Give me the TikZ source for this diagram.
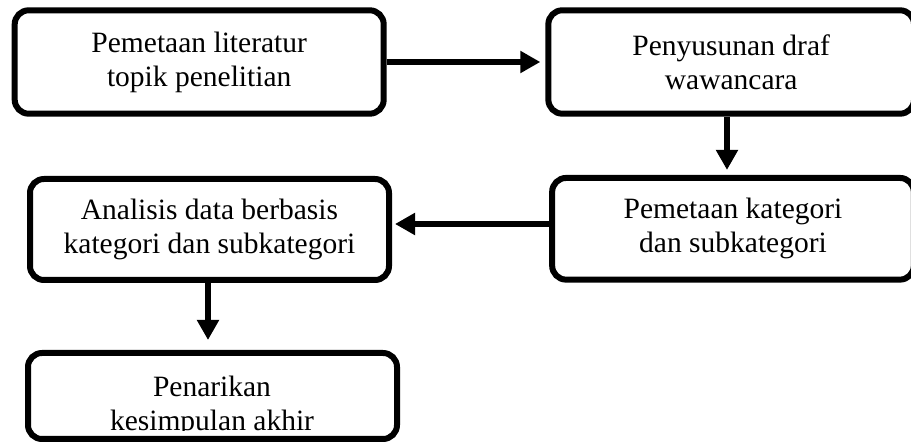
\documentclass[tikz,border=0pt]{standalone}
\usepackage{fontspec}
\setmainfont{Liberation Serif}
\usetikzlibrary{arrows.meta}
\begin{document}
\begin{tikzpicture}[x=1pt,y=-1pt,
  lbl/.style={align=center, font=\fontsize{29.5}{34}\selectfont, inner sep=0pt},
  box/.style={lbl, draw, line width=6pt, rounded corners=14pt},
  arr/.style={line width=6.5pt, -{Triangle[length=20pt,width=21pt]}}]
\clip (0,0) rectangle (911,443);
\node[box, minimum width=369pt, minimum height=103.4pt] (b1) at (199.2,62) {Pemetaan literatur\\topik penelitian};
\node[box, minimum width=365.7pt, minimum height=103.4pt] (b2) at (731.2,62) {Penyusunan draf\\wawancara};
\node[box, minimum width=361.7pt, minimum height=101.7pt] (b3) at (733,228.8) {Pemetaan kategori\\dan subkategori};
\node[box, minimum width=359pt, minimum height=101pt] (b4) at (209.5,229.5) {Analisis data berbasis\\kategori dan subkategori};
\node[box, minimum width=369pt, minimum height=86pt] (b5) at (212.5,396) {};
\begin{scope}
  \clip (28,353) rectangle (397,430.5);
  \node[lbl] (t5) at (212,406) {Penarikan\\kesimpulan akhir};
\end{scope}
\coordinate (a2x) at (727,0);
\coordinate (a3y) at (0,224);
\coordinate (a4x) at (208,0);
\draw[arr, shorten >=5pt] (b1.east) -- (b2.west);
\draw[arr, shorten >=5pt] (b2.south -| a2x) -- (b3.north -| a2x);
\draw[arr, shorten >=3pt] (b3.west |- a3y) -- (b4.east |- a3y);
\draw[arr, shorten >=10pt] (b4.south -| a4x) -- (b5.north -| a4x);
\end{tikzpicture}
\end{document}
